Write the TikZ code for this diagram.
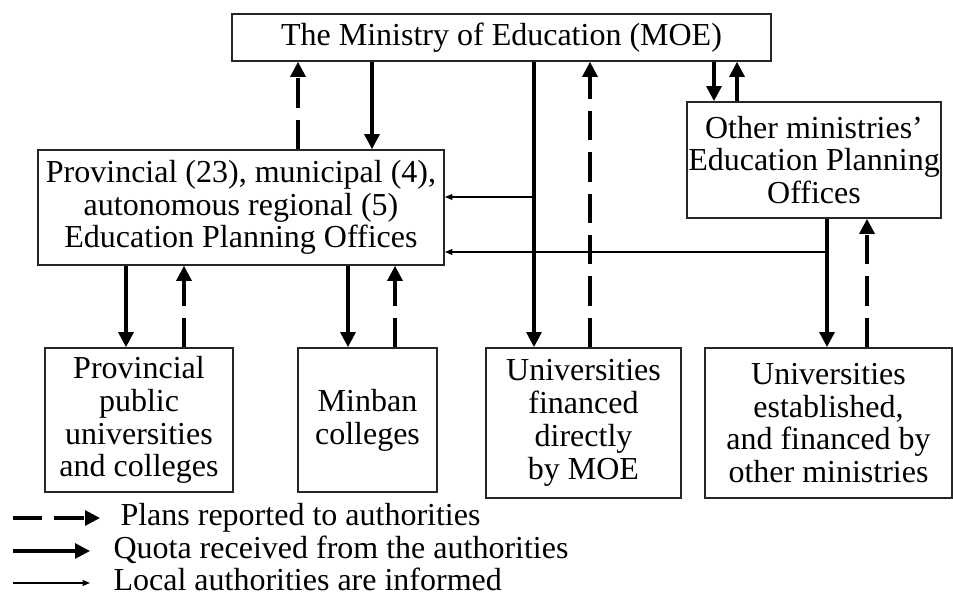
\documentclass[tikz,border=0pt]{standalone}
\usepackage{fontspec}
\setmainfont{Liberation Serif}
\usetikzlibrary{arrows.meta}

\begin{document}
\begin{tikzpicture}[x=0.375pt,y=-0.375pt,
  font=\fontsize{12}{12.3}\selectfont,
  box node/.style={draw=black!85,line width=0.65pt,align=center,inner sep=0pt},
  quota arrow/.style={line width=1.15pt,-{Triangle[width=5.6pt,length=5.6pt]}},
  report arrow/.style={quota arrow,dash pattern=on 11pt off 4.5pt},
  inform arrow/.style={line width=0.45pt,-{Triangle[width=2.2pt,length=2.8pt]}}]

  \useasboundingbox (0,0) rectangle (953,598);

  \node[box node,minimum width=202.1pt,minimum height=17.6pt] (1) at (501.5,37.5) {The Ministry of Education (MOE)};
  \node[box node,minimum width=152.3pt,minimum height=43.1pt] (2) at (241,207.5) {Provincial (23), municipal (4),\\ autonomous regional (5)\\ Education Planning Offices};
  \node[box node,minimum width=95.3pt,minimum height=43.5pt] (3) at (814,160) {Other ministries'\\ Education Planning\\ Offices};
  \node[box node,minimum width=70.5pt,minimum height=54pt] (4) at (139,420) {Provincial\\ public\\ universities\\ and colleges};
  \node[box node,minimum width=52.1pt,minimum height=54pt] (5) at (367.5,420) {Minban\\ colleges};
  \node[box node,minimum width=73.1pt,minimum height=56.3pt] (6) at (583.5,423) {Universities\\ financed\\ directly\\ by MOE};
  \node[box node,minimum width=92.6pt,minimum height=56.3pt] (7) at (828.5,423) {Universities\\ established,\\ and financed by\\ other ministries};

  \path
   (2.north -| 298,0) edge[report arrow] (1.south -| 298,0)
   (1.south -| 372,0) edge[quota arrow] (2.north -| 372,0)
   (1.south -| 534,0) edge[quota arrow] (6.north -| 534,0)
   (6.north -| 590,0) edge[report arrow] (1.south -| 590,0)
   (1.south -| 714,0) edge[quota arrow] (3.north -| 714,0)
   (3.north -| 737,0) edge[report arrow] (1.south -| 737,0)
   (3.south -| 827,0) edge[quota arrow] (7.north -| 827,0)
   (7.north -| 867,0) edge[report arrow] (3.south -| 867,0)
   (2.south -| 126,0) edge[quota arrow] (4.north -| 126,0)
   (4.north -| 184,0) edge[report arrow] (2.south -| 184,0)
   (2.south -| 348,0) edge[quota arrow] (5.north -| 348,0)
   (5.north -| 395,0) edge[report arrow] (2.south -| 395,0);

  \coordinate (a) at (534,197);
  \coordinate (b) at (827,252);
  \path
   (a) edge[inform arrow] (a -| 2.east)
   (b) edge[inform arrow] (b -| 2.east);

  % legend
  \node[anchor=base west,inner sep=0pt] (8) at (120,525) {Plans reported to authorities};
  \node[anchor=base west,inner sep=0pt] (9) at (113,558) {Quota received from the authorities};
  \node[anchor=base west,inner sep=0pt] (10) at (113,590) {Local authorities are informed};
  \coordinate (l1) at (13,518);
  \coordinate (l2) at (13,551);
  \coordinate (l3) at (13,583);
  \draw[report arrow] (l1) -- ++(87,0);
  \draw[quota arrow] (l2) -- ++(77,0);
  \draw[inform arrow] (l3) -- ++(77,0);
\end{tikzpicture}
\end{document}
